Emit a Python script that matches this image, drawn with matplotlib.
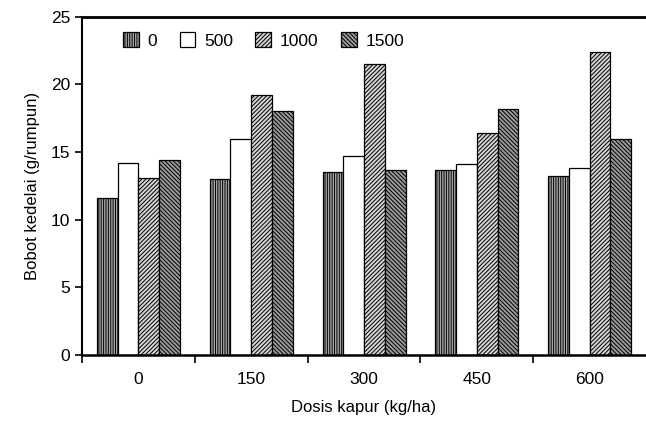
import matplotlib
matplotlib.use('Agg')
import matplotlib.pyplot as plt
import numpy as np

plt.rcParams['font.family'] = ['Liberation Sans', 'DejaVu Sans']
plt.rcParams['hatch.linewidth'] = 0.7

doses = ['0', '150', '300', '450', '600']
series_labels = ['0', '500', '1000', '1500']
bobot_0 = [11.6, 13.0, 13.5, 13.7, 13.2]
bobot_500 = [14.2, 16.0, 14.7, 14.1, 13.8]
bobot_1000 = [13.1, 19.2, 21.5, 16.4, 22.4]
bobot_1500 = [14.4, 18.0, 13.7, 18.2, 16.0]

values = [bobot_0, bobot_500, bobot_1000, bobot_1500]
faces = ['#a6a6a6', 'white', '#d4d4d4', '#9a9a9a']
hatches = ['|||||||', '', '////////', '\\\\\\\\\\\\\\\\']

fig = plt.figure(figsize=(6.46, 4.21), dpi=100)
ax = fig.add_axes([0.127, 0.157, 0.873, 0.803])

x = np.arange(len(doses))
width = 0.184
for i, vals in enumerate(values):
    ax.bar(x + (i - 1.5) * width, vals, width, label=series_labels[i],
           color=faces[i], edgecolor='black', linewidth=0.9, hatch=hatches[i])

ax.set_xlim(-0.5, 4.5)
ax.set_ylim(0, 25)
ax.set_yticks(np.arange(0, 26, 5))
ax.set_xticks(np.arange(-0.5, 4.0, 1.0))
ax.set_xticklabels([])
ax.set_xticks(x, minor=True)
ax.set_xticklabels(doses, minor=True)
ax.tick_params(axis='x', which='major', direction='out', length=6, width=1.2)
ax.tick_params(axis='x', which='minor', length=0, pad=12, labelsize=12.5)
ax.tick_params(axis='y', direction='out', length=5, width=1.2, labelsize=12.5)

ax.spines['right'].set_visible(False)
ax.spines['top'].set_linewidth(2)
ax.spines['left'].set_linewidth(1.5)
ax.spines['bottom'].set_linewidth(1.8)

ax.set_xlabel('Dosis kapur (kg/ha)', fontsize=12, labelpad=10)
ax.set_ylabel('Bobot kedelai (g/rumpun)', fontsize=12, labelpad=8)

ax.legend(loc='upper left', ncol=4, frameon=False, fontsize=12.5,
          handlelength=0.9, handleheight=0.9, handletextpad=0.5,
          columnspacing=1.3, bbox_to_anchor=(0.045, 1.0))

fig.savefig('out.png', dpi=100)
